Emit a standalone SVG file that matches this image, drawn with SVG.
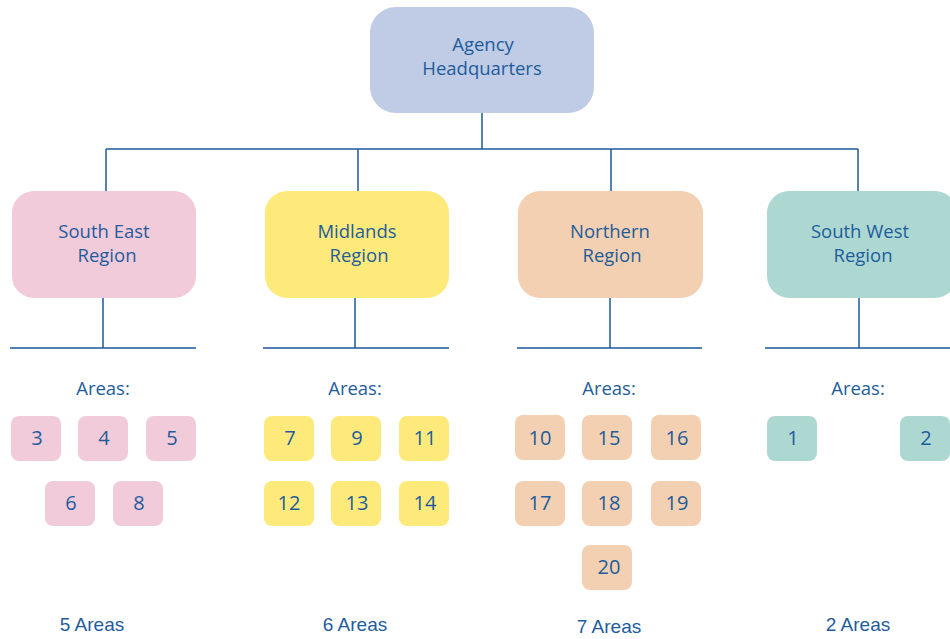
<svg xmlns="http://www.w3.org/2000/svg" width="950" height="639" viewBox="0 0 950 639">
<style>
text{font-family:"Open Sans","Noto Sans","Liberation Sans",sans-serif;fill:#1e5c9c;text-anchor:middle}
.t{font-size:18.5px}
.n{font-size:20px}
.b{font-family:"Liberation Sans",sans-serif;font-size:19px}
.ln{stroke:#1b5b9b;stroke-width:1.5;fill:none}
.hq{fill:#c0cbe5}.se{fill:#f2cbdb}.mid{fill:#feea7b}.no{fill:#f2d0b1}.sw{fill:#add8d2}
</style>
<g id="connectors">
<path class="ln" d="M482,113V149M106,149H858M106,149V191M358,149V191M611,149V191M858,149V191"/>
<path class="ln" d="M103,298V348M10,348H196"/>
<path class="ln" d="M355,298V348M263,348H449"/>
<path class="ln" d="M610,298V348M517,348H702"/>
<path class="ln" d="M859,298V348M765,348H950"/>
</g>
<g id="hq"><rect class="hq" x="370" y="7" width="224" height="106" rx="26"/><text class="t" x="483" y="51">Agency</text><text class="t" x="482" y="75">Headquarters</text></g>
<g id="southeast"><rect class="se" x="12" y="191" width="184" height="107" rx="22"/><text class="t" x="104" y="238">South East</text><text class="t" x="107" y="262">Region</text></g>
<g id="midlands"><rect class="mid" x="265" y="191" width="184" height="107" rx="22"/><text class="t" x="357" y="238">Midlands</text><text class="t" x="359" y="262">Region</text></g>
<g id="northern"><rect class="no" x="518" y="191" width="185" height="107" rx="22"/><text class="t" x="610" y="238">Northern</text><text class="t" x="612" y="262">Region</text></g>
<g id="southwest"><rect class="sw" x="767" y="191" width="190" height="107" rx="22"/><text class="t" x="860" y="238">South West</text><text class="t" x="863" y="262">Region</text></g>
<g id="se-areas">
<text class="t" x="103" y="395">Areas:</text>
<rect class="se" x="11" y="416" width="50" height="45" rx="8"/><text class="n" x="37" y="445">3</text>
<rect class="se" x="78" y="416" width="50" height="45" rx="8"/><text class="n" x="104" y="445">4</text>
<rect class="se" x="146" y="416" width="50" height="45" rx="8"/><text class="n" x="172" y="445">5</text>
<rect class="se" x="45" y="481" width="50" height="45" rx="8"/><text class="n" x="71" y="510">6</text>
<rect class="se" x="113" y="481" width="50" height="45" rx="8"/><text class="n" x="139" y="510">8</text>
</g>
<g id="mid-areas">
<text class="t" x="355" y="395">Areas:</text>
<rect class="mid" x="264" y="416" width="50" height="45" rx="8"/><text class="n" x="290" y="445">7</text>
<rect class="mid" x="331" y="416" width="50" height="45" rx="8"/><text class="n" x="357" y="445">9</text>
<rect class="mid" x="399" y="416" width="50" height="45" rx="8"/><text class="n" x="425" y="445">11</text>
<rect class="mid" x="264" y="481" width="50" height="45" rx="8"/><text class="n" x="289" y="510">12</text>
<rect class="mid" x="331" y="481" width="50" height="45" rx="8"/><text class="n" x="357" y="510">13</text>
<rect class="mid" x="399" y="481" width="50" height="45" rx="8"/><text class="n" x="425" y="510">14</text>
</g>
<g id="north-areas">
<text class="t" x="609" y="395">Areas:</text>
<rect class="no" x="515" y="415" width="50" height="45" rx="8"/><text class="n" x="540" y="445">10</text>
<rect class="no" x="582" y="415" width="50" height="45" rx="8"/><text class="n" x="609" y="445">15</text>
<rect class="no" x="651" y="415" width="50" height="45" rx="8"/><text class="n" x="677" y="445">16</text>
<rect class="no" x="515" y="481" width="50" height="45" rx="8"/><text class="n" x="540" y="510">17</text>
<rect class="no" x="582" y="481" width="50" height="45" rx="8"/><text class="n" x="609" y="510">18</text>
<rect class="no" x="651" y="481" width="50" height="45" rx="8"/><text class="n" x="677" y="510">19</text>
<rect class="no" x="582" y="545" width="50" height="45" rx="8"/><text class="n" x="609" y="574">20</text>
</g>
<g id="sw-areas">
<text class="t" x="858" y="395">Areas:</text>
<rect class="sw" x="767" y="416" width="50" height="45" rx="8"/><text class="n" x="793" y="445">1</text>
<rect class="sw" x="900" y="416" width="50" height="45" rx="8"/><text class="n" x="926" y="445">2</text>
</g>
<g id="totals">
<text class="b" x="92" y="631">5 Areas</text>
<text class="b" x="355" y="631">6 Areas</text>
<text class="b" x="609" y="633">7 Areas</text>
<text class="b" x="858" y="631">2 Areas</text>
</g>
</svg>
